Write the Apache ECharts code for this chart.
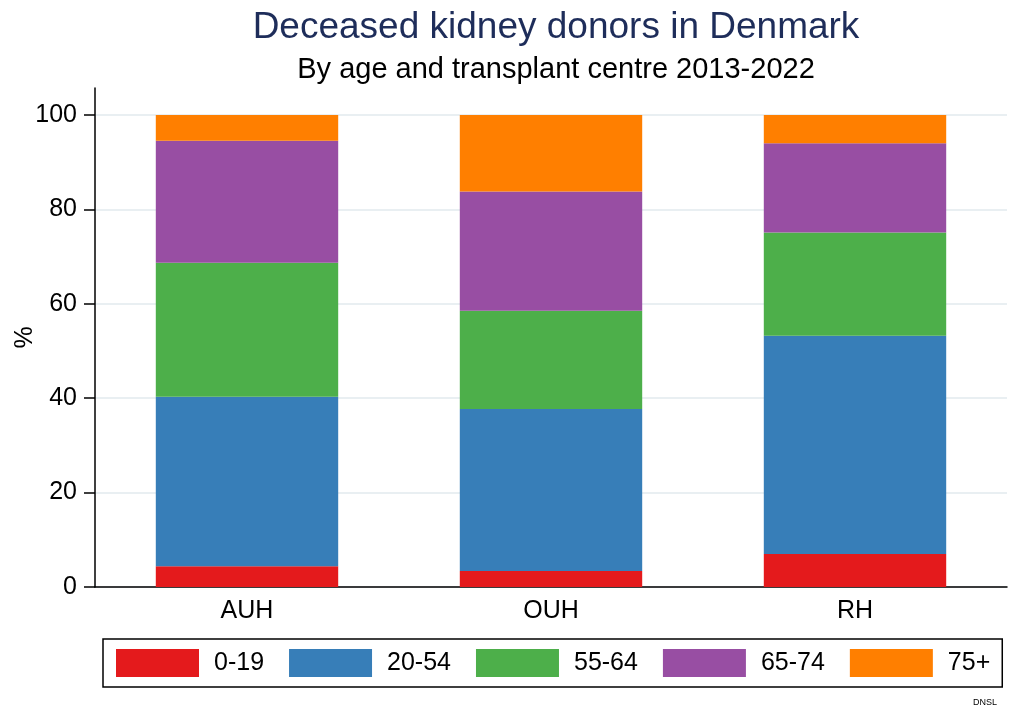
<!doctype html>
<html>
<head>
<meta charset="utf-8">
<title>Deceased kidney donors in Denmark</title>
<style>
	html,body{height: 100%; padding: 0; margin: 0; background: #fff;}
</style>
</head>
<body>
<div style="width: 1012px; height: 715px;" id="chart"></div>
<script src="https://cdn.jsdelivr.net/npm/echarts@6/dist/echarts.min.js"></script>
<script>
var centres = ['AUH', 'OUH', 'RH'];
var ageGroups = ['0-19', '20-54', '55-64', '65-74', '75+'];
// share of donors (%) per centre, one array per age group
var age0_19 = [4.4, 3.4, 7.0];
var age20_54 = [35.9, 34.3, 46.2];
var age55_64 = [28.4, 20.8, 21.9];
var age65_74 = [25.8, 25.3, 18.9];
var age75plus = [5.5, 16.2, 6.0];
var yTicks = [0, 20, 40, 60, 80, 100];

var colors = ['#e41a1c', '#377eb8', '#4daf4a', '#984ea3', '#ff7f00'];
var font = "'Liberation Sans', Arial, sans-serif";
var values = [age0_19, age20_54, age55_64, age65_74, age75plus];

var series = ageGroups.map(function (name, i) {
	return {
		name: name,
		type: 'bar',
		stack: 'total',
		barWidth: '60%',
		itemStyle: {color: colors[i]},
		data: values[i]
	};
});

var chart = echarts.init(document.getElementById('chart'));
chart.setOption({
	animation: false,
	color: colors,
	title: [{
		text: 'Deceased kidney donors in Denmark',
		subtext: 'By age and transplant centre 2013-2022',
		left: 551,
		textAlign: 'center',
		top: 4,
		itemGap: 9,
		textStyle: {fontFamily: font, fontSize: 37, fontWeight: 'normal', color: '#1e2d5a'},
		subtextStyle: {fontFamily: font, fontSize: 29, color: '#000'}
	}, {
		text: 'DNSL',
		right: 10,
		bottom: 3,
		textStyle: {fontFamily: font, fontSize: 9, fontWeight: 'normal', color: '#000'}
	}],
	legend: {
		data: ageGroups,
		left: 103,
		right: 8,
		top: 639,
		padding: [10, 12, 10, 13],
		itemGap: 25,
		itemWidth: 83,
		itemHeight: 28,
		borderColor: '#000',
		borderWidth: 1.5,
		borderRadius: 0,
		icon: 'rect',
		textStyle: {fontFamily: font, fontSize: 25, color: '#000', padding: [0, 0, 0, 10]}
	},
	grid: {left: 95, right: 5, top: 88, bottom: 128, containLabel: false, outerBoundsMode: 'none'},
	xAxis: {
		type: 'category',
		data: centres,
		axisLine: {lineStyle: {color: '#000', width: 1.5}},
		axisTick: {show: false},
		axisLabel: {fontFamily: font, fontSize: 25, color: '#000', margin: 12}
	},
	yAxis: {
		type: 'value',
		name: '%',
		nameLocation: 'middle',
		nameGap: 57,
		nameRotate: 90,
		nameMoveOverlap: false,
		nameTextStyle: {fontFamily: font, fontSize: 25, color: '#000'},
		min: 0,
		max: 105.7,
		interval: 20,
		axisLine: {show: true, lineStyle: {color: '#000', width: 1.5}},
		axisTick: {show: true, length: 11, customValues: yTicks, lineStyle: {color: '#000', width: 1.5}},
		axisLabel: {fontFamily: font, fontSize: 25, color: '#000', margin: 18, customValues: yTicks},
		splitLine: {lineStyle: {color: '#e9eff2', width: 2}, customValues: yTicks}
	},
	series: series
});
</script>
</body>
</html>
